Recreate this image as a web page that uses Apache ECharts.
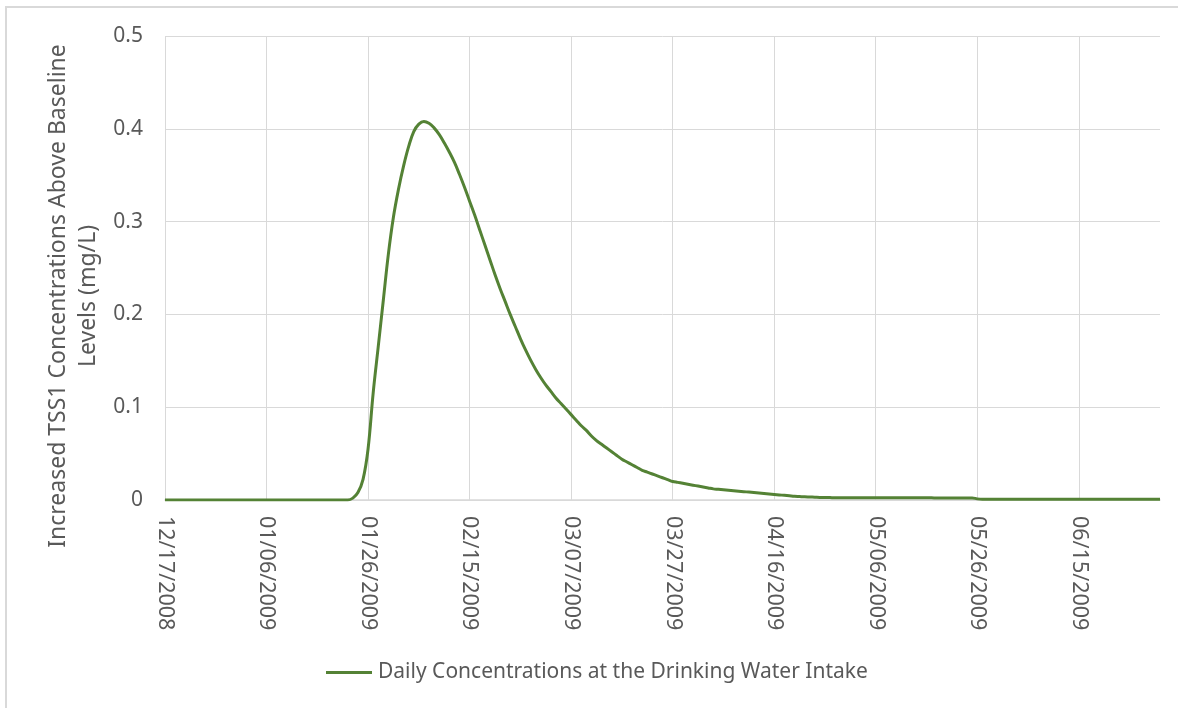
<!DOCTYPE html>
<html>
<head>
<meta charset="utf-8">
<script src="https://cdn.jsdelivr.net/npm/echarts@6/dist/echarts.min.js"></script>
<style>
html,body{margin:0;padding:0;background:#fff;}
#chart{width:1178px;height:708px;}
</style>
</head>
<body>
<div id="chart"></div>
<script>
// ---- data ----
var startDate = [2008, 12, 17];           // first day of the daily series
var seriesName = 'Daily Concentrations at the Drinking Water Intake';
// daily concentration (mg/L), one value per day starting 12/17/2008
var dailyValues = [
  0,0,0,0,0,0,0,0,0,0,
  0,0,0,0,0,0,0,0,0,0,
  0,0,0,0,0,0,0,0,0,0,
  0,0,0,0,0,0,0,0.002,0.008,0.022,
  0.055,0.115,0.165,0.215,0.265,0.305,0.335,0.36,0.381,0.397,
  0.405,0.408,0.406,0.401,0.394,0.385,0.375,0.364,0.351,0.337,
  0.322,0.307,0.291,0.275,0.259,0.243,0.228,0.214,0.2,0.187,
  0.174,0.162,0.151,0.141,0.132,0.124,0.117,0.11,0.104,0.098,
  0.092,0.086,0.08,0.075,0.069,0.064,0.06,0.056,0.052,0.048,
  0.044,0.041,0.038,0.035,0.032,0.03,0.028,0.026,0.024,0.022,
  0.02,0.019,0.018,0.017,0.016,0.015,0.014,0.013,0.012,0.0115,
  0.011,0.0105,0.01,0.0095,0.009,0.0085,0.008,0.0075,0.007,0.0065,
  0.006,0.0055,0.005,0.0045,0.004,0.0037,0.0034,0.0032,0.003,0.0028,
  0.0027,0.0026,0.0025,0.0025,0.0025,0.0025,0.0025,0.0025,0.0024,0.0024,
  0.0024,0.0024,0.0024,0.0024,0.0023,0.0023,0.0023,0.0023,0.0023,0.0023,
  0.0023,0.0023,0.0022,0.0022,0.0022,0.0022,0.0022,0.0022,0.0022,0.0022,
  0.0012,0.0008,0.0008,0.0008,0.0008,0.0008,0.0008,0.0008,0.0008,0.0008,
  0.0008,0.0008,0.0008,0.0008,0.0008,0.0008,0.0008,0.0008,0.0008,0.0008,
  0.0008,0.0008,0.0008,0.0008,0.0008,0.0008,0.0008,0.0008,0.0008,0.0008,
  0.0008,0.0008,0.0008,0.0008,0.0008,0.0008,0.0008
];
var xTickLabels = ['12/17/2008','01/06/2009','01/26/2009','02/15/2009','03/07/2009',
                   '03/27/2009','04/16/2009','05/06/2009','05/26/2009','06/15/2009'];
var xTickStep = 20; // days between labelled ticks
var yTickValues = [0, 0.1, 0.2, 0.3, 0.4, 0.5];
var yTitleLines = ['Increased TSS1 Concentrations Above Baseline', 'Levels (mg/L)'];

// ---- build category list (dates) ----
function pad(n){ return (n < 10 ? '0' : '') + n; }
var categories = dailyValues.map(function(v, i){
  var d = new Date(Date.UTC(startDate[0], startDate[1]-1, startDate[2] + i));
  return pad(d.getUTCMonth()+1) + '/' + pad(d.getUTCDate()) + '/' + d.getUTCFullYear();
});

var FONT = 'Noto Sans';
var TXT = '#595959';
var GRID = '#d9d9d9';
var LINE = '#548235';

var chart = echarts.init(document.getElementById('chart'), null, {renderer: 'canvas'});
chart.setOption({
  animation: false,
  backgroundColor: '#ffffff',
  grid: {left: 165, right: 18, top: 36, bottom: 208, containLabel: false},
  xAxis: {
    type: 'category',
    data: categories,
    boundaryGap: false,
    axisLine: {show: true, lineStyle: {color: GRID, width: 1.5}},
    axisTick: {show: false},
    axisLabel: {
      interval: xTickStep - 1,
      rotate: -90,
      margin: 16,
      color: TXT,
      fontFamily: FONT,
      fontSize: 21.5,
      formatter: function(val, idx){
        return idx % xTickStep === 0 ? (xTickLabels[idx / xTickStep] || '') : '';
      }
    },
    splitLine: {show: true, interval: xTickStep - 1, lineStyle: {color: GRID, width: 1}}
  },
  yAxis: {
    type: 'value',
    min: yTickValues[0],
    max: yTickValues[yTickValues.length-1],
    interval: 0.1,
    axisLine: {show: false},
    axisTick: {show: false},
    axisLabel: {
      margin: 22,
      color: TXT,
      fontFamily: FONT,
      fontSize: 21,
      formatter: function(v){ return v === 0 ? '0' : v.toFixed(1); }
    },
    splitLine: {show: true, lineStyle: {color: GRID, width: 1}}
  },
  legend: {
    show: true,
    left: 321,
    top: 657,
    itemWidth: 46,
    itemHeight: 3,
    itemGap: 10,
    textStyle: {color: TXT, fontFamily: FONT, fontSize: 21, padding: [0, 0, 0, 1]},
    data: [{name: seriesName, icon: 'rect'}]
  },
  graphic: [
    {
      type: 'rect',
      silent: true,
      shape: {x: 6, y: 7, width: 1400, height: 1000},
      style: {fill: 'none', stroke: '#d9d9d9', lineWidth: 2}
    },
    {
      type: 'text',
      x: 73, y: 296,
      rotation: Math.PI / 2,
      silent: true,
      style: {
        text: yTitleLines.join('\n'),
        fill: TXT,
        font: '23px "Noto Sans"',
        align: 'center',
        verticalAlign: 'middle',
        lineHeight: 30
      }
    }
  ],
  series: [{
    name: seriesName,
    type: 'line',
    data: dailyValues,
    symbol: 'none',
    smooth: 0.4,
    lineStyle: {color: LINE, width: 3},
    itemStyle: {color: LINE}
  }]
});
</script>
</body>
</html>
